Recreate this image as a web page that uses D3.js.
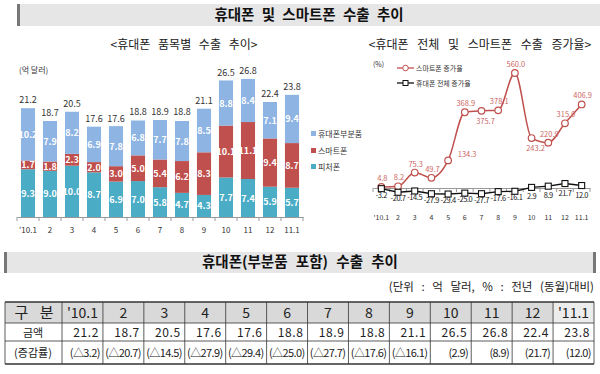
<!DOCTYPE html>
<html><head><meta charset="utf-8">
<script src="https://cdn.jsdelivr.net/npm/d3@7"></script>
<style>
body{margin:0;background:#fff;}
svg{display:block;font-family:"Noto Sans CJK KR","Noto Sans",sans-serif;}
</style></head>
<body>
<svg id="c" width="600" height="374"></svg>
<script>
const months = ["'10.1","2","3","4","5","6","7","8","9","10","11","12","11.1"];
const featurePhone = [9.3,9.0,10.0,8.7,6.9,7.0,5.8,4.7,4.3,7.7,7.4,5.9,5.7];
const smartPhone = [1.7,1.8,2.3,2.0,3.0,5.0,5.4,6.2,8.3,10.1,11.1,9.4,8.7];
const phoneParts = [10.2,7.9,8.2,6.9,7.8,6.8,7.7,7.8,8.5,8.8,8.4,7.1,9.4];
const totals = [21.2,18.7,20.5,17.6,17.6,18.8,18.9,18.8,21.1,26.5,26.8,22.4,23.8];
const smartGrowth = [4.8,8.2,75.3,49.7,134.3,368.9,375.7,378.1,560.0,243.2,220.9,315.0,406.9];
const totalGrowth = [-3.2,-20.7,-14.5,-27.9,-29.4,-25.0,-27.7,-17.6,-16.1,2.9,8.9,21.7,12.0];
const smartLabelPos = ["t","t","t","t","r","t","b","t","t","b","t","t","t"];
const tableHeader = ["'10.1","2","3","4","5","6","7","8","9","10","11","12","'11.1"];
const tableAmount = ["21.2","18.7","20.5","17.6","17.6","18.8","18.9","18.8","21.1","26.5","26.8","22.4","23.8"];
const tableGrowth = ["(△3.2)","(△20.7)","(△14.5)","(△27.9)","(△29.4)","(△25.0)","(△27.7)","(△17.6)","(△16.1)","(2.9)","(8.9)","(21.7)","(12.0)"];
const seriesNames = ["휴대폰부분품","스마트폰","피처폰"];

const svg = d3.select("#c");
const C_PARTS="#8db4e2", C_SMART="#c0504d", C_FEAT="#4bacc6";

// Top banner
svg.append("rect").attr("x",17).attr("y",4).attr("width",583).attr("height",22).attr("fill","#e6e6e6");
svg.append("rect").attr("x",17).attr("y",4).attr("width",3).attr("height",22).attr("fill","#777");
svg.append("text").attr("x",309).attr("y",20).attr("text-anchor","middle").attr("font-size",14.5).attr("word-spacing",4).attr("font-weight","bold").attr("fill","#111").text("휴대폰 및 스마트폰 수출 추이");

// ---------- Left chart ----------
svg.append("text").attr("x",184).attr("y",49).attr("text-anchor","middle").attr("font-size",12).attr("word-spacing",5).attr("fill","#222").text("<휴대폰 품목별 수출 추이>");
svg.append("text").attr("x",19).attr("y",73).attr("font-size",8).attr("fill","#333").text("(억 달러)");

const xb = d3.scaleBand().domain(months).range([17,303]).paddingInner(0.36).paddingOuter(0.18);
const yb = d3.scaleLinear().domain([0,30]).range([217,63]);

const rows = months.map((m,i)=>({m, feat:featurePhone[i], smart:smartPhone[i], parts:phoneParts[i]}));
const stack = d3.stack().keys(["feat","smart","parts"])(rows);
const colors = {feat:C_FEAT, smart:C_SMART, parts:C_PARTS};
const gBars = svg.append("g");
stack.forEach(layer=>{
  const g = gBars.append("g");
  g.selectAll("rect").data(layer).join("rect")
    .attr("x",d=>xb(d.data.m)).attr("width",xb.bandwidth())
    .attr("y",d=>yb(d[1])).attr("height",d=>yb(d[0])-yb(d[1]))
    .attr("fill",colors[layer.key]);
  g.selectAll("text").data(layer).join("text")
    .attr("x",d=>xb(d.data.m)+xb.bandwidth()/2)
    .attr("y",d=>(yb(d[0])+yb(d[1]))/2+3.5)
    .attr("text-anchor","middle").attr("font-size",9).attr("font-weight","bold").attr("fill","#fff")
    .text(d=>d.data[layer.key].toFixed(1));
});
gBars.selectAll(".tot").data(months).join("text")
  .attr("x",m=>xb(m)+xb.bandwidth()/2)
  .attr("y",(m,i)=>yb(totals[i])-5)
  .attr("text-anchor","middle").attr("font-size",9).attr("fill","#333").text((m,i)=>totals[i].toFixed(1));

// axis
const axB = svg.append("g").attr("transform","translate(0,217)")
  .call(d3.axisBottom(xb).tickSize(0).tickPadding(10));
axB.select(".domain").attr("stroke","#999");
axB.selectAll("text").attr("font-size",8).attr("fill","#333").attr("font-family","'Noto Sans CJK KR',sans-serif");
svg.append("g").selectAll("line").data(d3.range(months.length+1)).join("line")
  .attr("x1",i=>17+i*(286/13)).attr("x2",i=>17+i*(286/13)).attr("y1",217).attr("y2",221).attr("stroke","#999");

// legend left
const legL = svg.append("g");
[C_PARTS,C_SMART,C_FEAT].forEach((c,i)=>{
  const y = [135,152,168][i];
  legL.append("rect").attr("x",311).attr("y",y-4).attr("width",5).attr("height",5).attr("fill",c);
  legL.append("text").attr("x",318).attr("y",y+2).attr("font-size",8).attr("fill","#333").text(seriesNames[i]);
});

// ---------- Right chart ----------
svg.append("text").attr("x",480).attr("y",49).attr("text-anchor","middle").attr("font-size",12).attr("word-spacing",6).attr("fill","#222").text("<휴대폰 전체 및 스마트폰 수출 증가율>");
svg.append("text").attr("x",373).attr("y",67).attr("font-size",7).attr("fill","#333").text("(%)");

const xl = d3.scaleBand().domain(months).range([373,590]).padding(0);
const cx = m=>xl(m)+xl.bandwidth()/2;
const yl = d3.scaleLinear().domain([0,560]).range([188,73]);

const axL = svg.append("g").attr("transform","translate(0,188)").call(d3.axisBottom(xl).tickSize(0).tickPadding(27));
axL.select(".domain").attr("stroke","#999");
axL.selectAll("text").attr("font-size",7).attr("fill","#333").attr("font-family","'Noto Sans CJK KR',sans-serif");
svg.append("g").selectAll("line").data(d3.range(months.length+1)).join("line")
  .attr("x1",i=>373+i*xl.step()).attr("x2",i=>373+i*xl.step()).attr("y1",188).attr("y2",192).attr("stroke","#999");

// smart line
svg.append("path").datum(smartGrowth)
  .attr("d",d3.line().x((v,i)=>cx(months[i])).y(v=>yl(v)).curve(d3.curveMonotoneX))
  .attr("fill","none").attr("stroke",C_SMART).attr("stroke-width",1.5);
svg.append("g").selectAll("circle").data(smartGrowth).join("circle")
  .attr("cx",(v,i)=>cx(months[i])).attr("cy",v=>yl(v)).attr("r",3.3)
  .attr("fill","#fff").attr("stroke",C_SMART).attr("stroke-width",1.2);
svg.append("g").selectAll("text").data(smartGrowth).join("text")
  .attr("x",(v,i)=>cx(months[i])+(smartLabelPos[i]==="r"?19:(smartLabelPos[i]==="t"?1:4)))
  .attr("y",(v,i)=>yl(v)+(smartLabelPos[i]==="t"?-6:(smartLabelPos[i]==="b"?13:-3)))
  .attr("text-anchor","middle").attr("font-size",7.5).attr("fill","#cd6865").text(v=>v.toFixed(1));

// total line
svg.append("path").datum(totalGrowth)
  .attr("d",d3.line().x((v,i)=>cx(months[i])).y(v=>yl(v)))
  .attr("fill","none").attr("stroke","#111").attr("stroke-width",1.4);
svg.append("g").selectAll("rect").data(totalGrowth).join("rect")
  .attr("x",(v,i)=>cx(months[i])-3).attr("y",v=>yl(v)-3).attr("width",6).attr("height",6)
  .attr("fill","#fff").attr("stroke","#111").attr("stroke-width",1.1);
svg.append("g").selectAll("text").data(totalGrowth).join("text")
  .attr("x",(v,i)=>cx(months[i])).attr("y",v=>yl(v)+(v<0?9:12))
  .attr("text-anchor","middle").attr("font-size",7.5).attr("letter-spacing",-0.4).attr("fill","#222").text(v=>v.toFixed(1));

// legend right
const legR = svg.append("g");
legR.append("line").attr("x1",397).attr("x2",414).attr("y1",68).attr("y2",68).attr("stroke",C_SMART).attr("stroke-width",1.3);
legR.append("circle").attr("cx",405.5).attr("cy",68).attr("r",2.8).attr("fill","#fff").attr("stroke",C_SMART);
legR.append("text").attr("x",416).attr("y",71).attr("font-size",7).attr("fill","#333").text("스마트폰 증가율");
legR.append("line").attr("x1",397).attr("x2",414).attr("y1",83).attr("y2",83).attr("stroke","#111").attr("stroke-width",1.3);
legR.append("rect").attr("x",403).attr("y",80.5).attr("width",5).attr("height",5).attr("fill","#fff").attr("stroke","#111");
legR.append("text").attr("x",416).attr("y",86).attr("font-size",7).attr("fill","#333").text("휴대폰 전체 증가율");

// ---------- Bottom banner ----------
svg.append("rect").attr("x",4).attr("y",252).attr("width",592).attr("height",21).attr("fill","#e6e6e6");
svg.append("rect").attr("x",4).attr("y",252).attr("width",3).attr("height",21).attr("fill","#777");
svg.append("rect").attr("x",593).attr("y",252).attr("width",3).attr("height",21).attr("fill","#777");
svg.append("text").attr("x",300).attr("y",267).attr("text-anchor","middle").attr("font-size",14.5).attr("word-spacing",5).attr("font-weight","bold").attr("fill","#111").text("휴대폰(부분품 포함) 수출 추이");
svg.append("text").attr("x",594).attr("y",291).attr("text-anchor","end").attr("font-size",11.5).attr("word-spacing",5).attr("fill","#222").text("(단위 : 억 달러, % : 전년 (동월)대비)");

// ---------- Table ----------
const tx = d3.scaleBand().domain(tableHeader).range([62,594]);
const rowY = [302,323,341,364];
const gT = svg.append("g");
gT.append("rect").attr("x",5).attr("y",rowY[0]).attr("width",589).attr("height",rowY[1]-rowY[0]).attr("fill","#d9d9d9");
gT.append("rect").attr("x",tx("'11.1")).attr("y",rowY[0]).attr("width",tx.bandwidth()).attr("height",rowY[1]-rowY[0]).attr("fill","#ececec");
rowY.forEach((y,i)=>gT.append("line").attr("x1",5).attr("x2",594).attr("y1",y).attr("y2",y)
  .attr("stroke","#333").attr("stroke-width",(i===0||i===3)?1.6:0.8));
const vx = [5,62].concat(tableHeader.map(h=>tx(h)+tx.bandwidth()));
vx.forEach(x=>gT.append("line").attr("x1",x).attr("x2",x).attr("y1",rowY[0]).attr("y2",rowY[3]).attr("stroke","#333").attr("stroke-width",0.8));
gT.append("text").attr("x",34).attr("y",318).attr("text-anchor","middle").attr("font-size",15).attr("word-spacing",8).attr("fill","#222").text("구 분");
gT.append("text").attr("x",33).attr("y",337).attr("text-anchor","middle").attr("font-size",11).attr("fill","#222").text("금액");
gT.append("text").attr("x",33).attr("y",357).attr("text-anchor","middle").attr("font-size",11).attr("fill","#222").text("(증감률)");
gT.selectAll(".h").data(tableHeader).join("text")
  .attr("x",h=>tx(h)+tx.bandwidth()/2).attr("y",318).attr("text-anchor","middle").attr("font-size",14).attr("fill","#222").text(h=>h);
gT.selectAll(".a").data(tableAmount).join("text")
  .attr("x",(v,i)=>tx(tableHeader[i])+tx.bandwidth()-4).attr("y",337).attr("text-anchor","end").attr("font-size",12).attr("letter-spacing",0.6).attr("fill","#222").text(v=>v);
gT.selectAll(".g").data(tableGrowth).join("text")
  .attr("x",(v,i)=>tx(tableHeader[i])+tx.bandwidth()-3).attr("y",357).attr("text-anchor","end").attr("font-size",11).attr("letter-spacing",-0.6).attr("fill","#222").text(v=>v);
</script>
</body></html>
